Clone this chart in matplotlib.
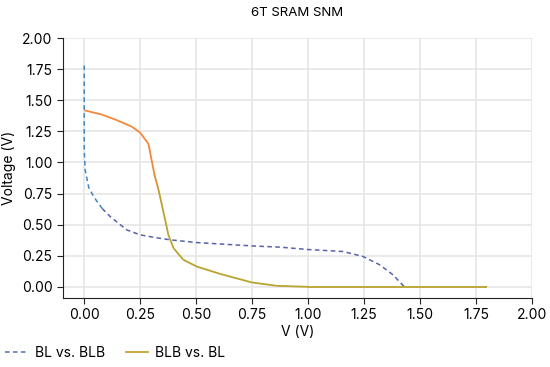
import numpy as np
import matplotlib
matplotlib.use("Agg")
from matplotlib import pyplot as plt
from matplotlib.collections import LineCollection
from matplotlib.colors import LinearSegmentedColormap
from matplotlib.lines import Line2D

plt.rcParams['font.family'] = ['Inter', 'DejaVu Sans']

# BL vs. BLB (dashed)
bl_x = [0.0, 0.0, 0.0, 0.004, 0.02, 0.042, 0.08, 0.116, 0.19, 0.25, 0.32, 0.384,
        0.503, 0.749, 0.875, 1.0, 1.156, 1.246, 1.32, 1.38, 1.43]
bl_y = [1.78, 1.4, 1.1, 0.94, 0.8, 0.725, 0.63, 0.565, 0.458, 0.418, 0.395, 0.378,
        0.356, 0.329, 0.319, 0.30, 0.284, 0.244, 0.177, 0.096, 0.0]

# BLB vs. BL (solid)
blb_x = [0.0, 0.08, 0.146, 0.213, 0.25, 0.287, 0.314, 0.332, 0.354, 0.376, 0.399,
         0.443, 0.503, 0.607, 0.749, 0.86, 1.0, 1.25, 1.5, 1.8]
blb_y = [1.42, 1.385, 1.34, 1.288, 1.24, 1.149, 0.90, 0.78, 0.60, 0.418, 0.311,
         0.217, 0.163, 0.104, 0.035, 0.008, 0.0, 0.0, 0.0, 0.0]

fig = plt.figure(figsize=(5.5, 3.67), dpi=100)
ax = fig.add_axes([0.1145, 0.188, 0.8525, 0.708])

# dashed curve: bluer at top, purple-ish lower
bx = np.array(bl_x)
by = np.array(bl_y)
top = by >= 0.6
k = np.where(top)[0][-1]
ax.plot(bx[:k + 1], by[:k + 1], '--', color='#3f86c2', lw=1.1, dashes=(3, 2.2))
ax.plot(bx[k:], by[k:], '--', color='#5663aa', lw=1.1, dashes=(3, 2.2))

# solid curve: orange at top fading to olive
cmap = LinearSegmentedColormap.from_list('og', ['#b8a42e', '#c99a30', '#f2843a', '#f5873c'])
pts = np.column_stack([blb_x, blb_y])
segs = np.stack([pts[:-1], pts[1:]], axis=1)
mid_y = (pts[:-1, 1] + pts[1:, 1]) / 2
lc = LineCollection(segs, colors=cmap(np.clip((mid_y - 0.6) / 0.5, 0, 1)), linewidths=1.3)
ax.add_collection(lc)

ax.set_xlim(-0.095, 2.0)
ax.set_ylim(-0.09, 2.0)
ax.set_xticks(np.arange(0, 2.01, 0.25))
ax.set_yticks(np.arange(0, 2.01, 0.25))
ax.xaxis.set_major_formatter(matplotlib.ticker.FormatStrFormatter('%.2f'))
ax.yaxis.set_major_formatter(matplotlib.ticker.FormatStrFormatter('%.2f'))
ax.grid(True, color='#e6e6e6', lw=1.2)
ax.set_axisbelow(True)
for s in ['top', 'right']:
    ax.spines[s].set_visible(False)
for s in ['left', 'bottom']:
    ax.spines[s].set_color('#222222')
ax.tick_params(labelsize=10, length=4, color='#222222')

ax.set_title("6T SRAM SNM", fontsize=9.5, pad=16)
ax.set_xlabel("V (V)", fontsize=10, labelpad=2)
ax.set_ylabel("Voltage (V)", fontsize=10)

handles = [Line2D([], [], ls='--', color='#4a6fb5', lw=1.1, dashes=(3, 2.2)),
           Line2D([], [], color='#c9a030', lw=1.3)]
fig.legend(handles, ["BL vs. BLB", "BLB vs. BL"], loc='lower left',
           bbox_to_anchor=(-0.014, -0.014), ncol=2, frameon=False, fontsize=10,
           handlelength=1.6, handletextpad=0.55, columnspacing=1.5)

fig.savefig("out.png", dpi=100)
